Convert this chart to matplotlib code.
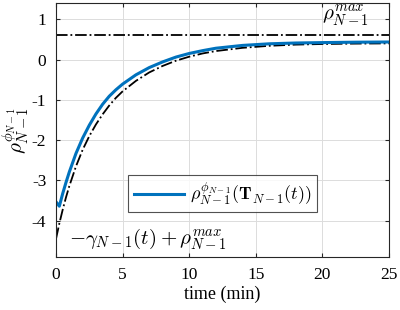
import matplotlib
matplotlib.use("Agg")
import matplotlib.pyplot as plt

plt.rcParams['mathtext.fontset'] = 'cm'
plt.rcParams['font.family'] = ['Liberation Serif', 'DejaVu Serif']
plt.rcParams['axes.unicode_minus'] = False

# Blue curve: rho^{phi}_{N-1}(T_{N-1}(t))
t_rho = [0, 0.25, 0.5, 0.75, 1.0, 1.5, 2.0, 2.5, 3.0, 3.5, 4.0, 4.5, 5, 6, 7, 8, 9, 10,
         11, 12, 14, 16, 18, 20, 22.5, 25]
rho = [-3.53, -3.64, -3.33, -3.05, -2.79, -2.33, -1.95, -1.63, -1.35, -1.11, -0.91,
       -0.75, -0.61, -0.38, -0.20, -0.06, 0.06, 0.15, 0.22, 0.28, 0.35, 0.39, 0.41,
       0.42, 0.43, 0.435]

# Black dash-dot lower bound: -gamma_{N-1}(t) + rho^max_{N-1}
t_bound = [0, 0.25, 0.5, 0.75, 1.0, 1.5, 2.0, 2.5, 3.0, 3.5, 4.0, 4.5, 5, 6, 7, 8, 9,
           10, 11, 12, 14, 16, 18, 20, 22.5, 25]
bound = [-4.45, -4.07, -3.73, -3.42, -3.14, -2.65, -2.24, -1.90, -1.61, -1.36, -1.14,
         -0.95, -0.79, -0.53, -0.32, -0.16, -0.03, 0.07, 0.15, 0.21, 0.29, 0.34, 0.37,
         0.385, 0.395, 0.40]

rho_max = 0.6
x_ticks = [0, 5, 10, 15, 20, 25]
y_ticks = [-4, -3, -2, -1, 0, 1]

fig = plt.figure(figsize=(4.0, 3.1), dpi=100)
ax = fig.add_axes([0.14, 0.171, 0.8325, 0.819])

ax.axhline(rho_max, color='black', linestyle='-.', linewidth=1.3)
ax.plot(t_bound, bound, color='black', linestyle='-.', linewidth=1.3)
ax.plot(t_rho, rho, color='#0072BD', linewidth=2.2,
        label=r'$\rho^{\phi_{N-1}}_{N-1}(\mathbf{T}_{N-1}(t))$')

ax.set_xlim(0, 25)
ax.set_ylim(-4.9, 1.4)
ax.set_xticks(x_ticks)
ax.set_yticks(y_ticks)
ax.tick_params(direction='in', top=True, right=True, labelsize=12.5, length=3,
               width=0.8, colors='#262626', pad=7)
for lbl in ax.get_xticklabels() + ax.get_yticklabels():
    lbl.set_color('black')
ax.grid(True, color='#dcdcdc', linewidth=0.7)
ax.set_axisbelow(True)
for s in ax.spines.values():
    s.set_linewidth(0.8)
    s.set_color('#262626')

ax.set_xlabel('time (min)', fontsize=13, labelpad=2)
ax.set_ylabel(r'$\rho^{\phi_{N-1}}_{N-1}$', fontsize=15, labelpad=0)

ax.text(1.0, -4.45, r'$-\gamma_{N-1}(t)+\rho^{max}_{N-1}$', fontsize=15,
        ha='left', va='center')
ax.text(21.7, 1.08, r'$\rho^{max}_{N-1}$', fontsize=15, ha='center', va='center')

leg = ax.legend(loc='center', bbox_to_anchor=(0.5, 0.25), fontsize=13,
                frameon=True, fancybox=False, edgecolor='#262626',
                handlelength=2.8, borderpad=0.3, handletextpad=0.3)
leg.get_frame().set_linewidth(0.8)

fig.savefig('out.png', dpi=100)
